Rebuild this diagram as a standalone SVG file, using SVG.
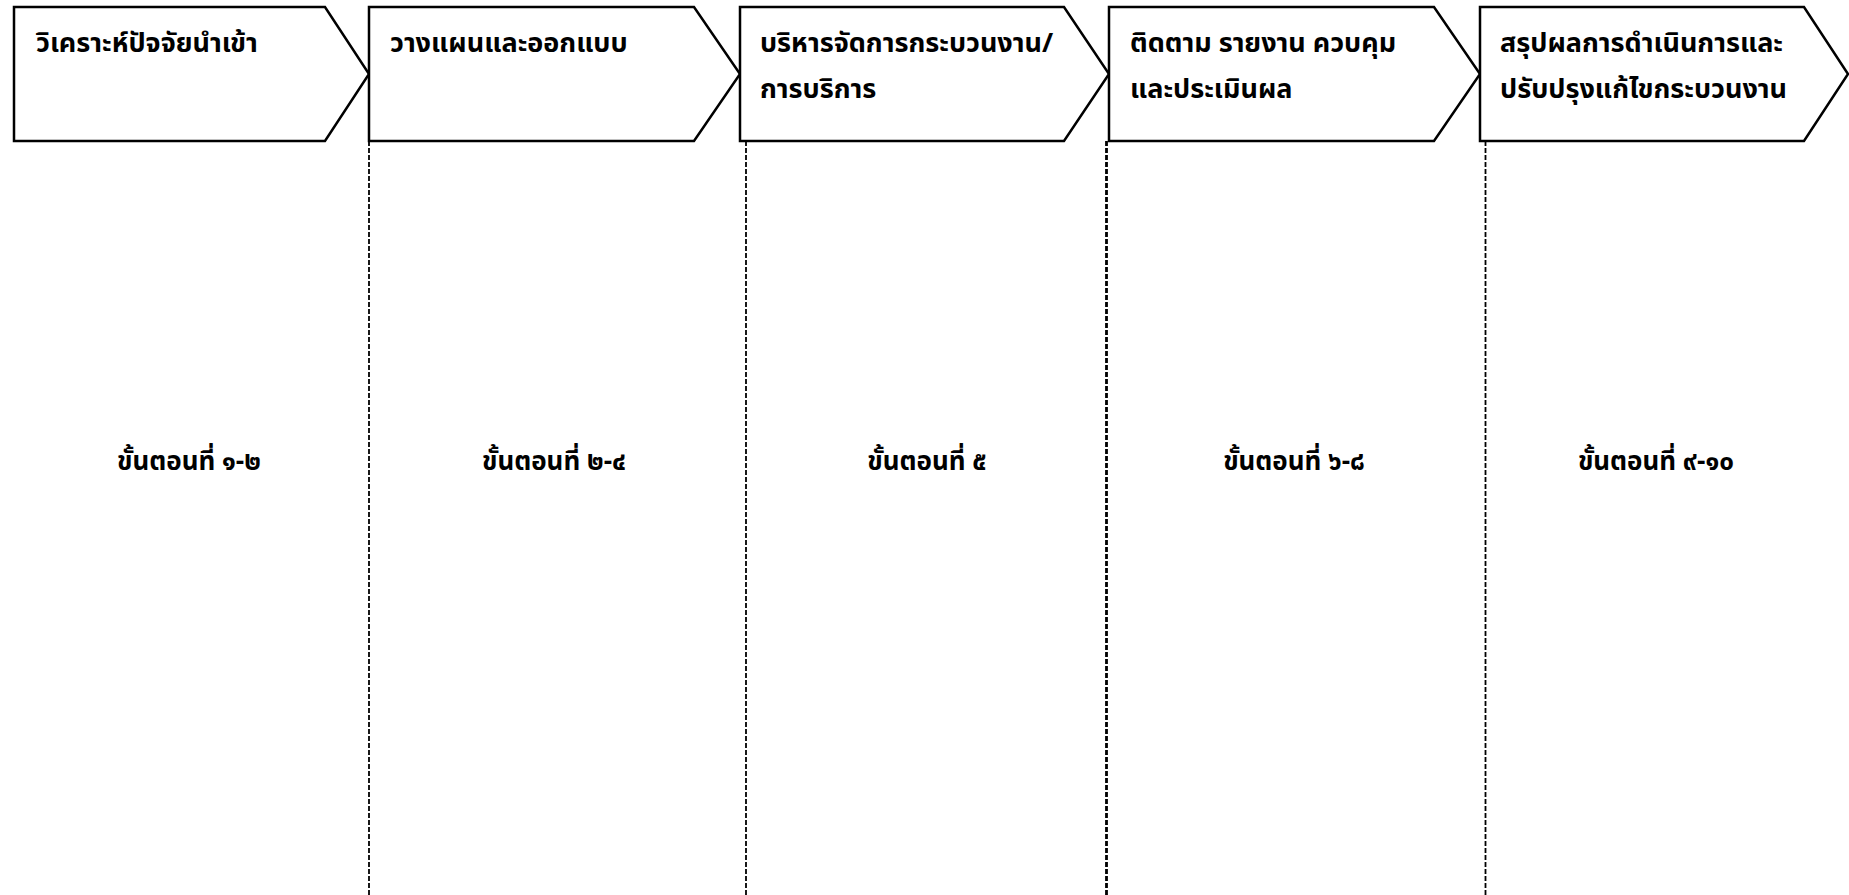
<svg xmlns="http://www.w3.org/2000/svg" width="1849" height="895" viewBox="0 0 1849 895">
<style>
.box{fill:#fff;stroke:#000;stroke-width:2.5;stroke-linejoin:miter}
.title{font-family:"Noto Sans Thai","Noto Sans","DejaVu Sans",sans-serif;font-size:27px;font-weight:bold;fill:#000}
.step{font-family:"Noto Sans Thai","Noto Sans","DejaVu Sans",sans-serif;font-size:26px;font-weight:bold;fill:#000;text-anchor:middle}
.div{stroke:#000;stroke-width:1.8;stroke-dasharray:5 2;fill:none}
</style>
<rect width="1849" height="895" fill="#fff"/>
<g id="connectors">
<line class="div" x1="369" y1="141" x2="369" y2="895"/>
<line class="div" x1="746" y1="141" x2="746" y2="895"/>
<line class="div" x1="1106.5" y1="141" x2="1106.5" y2="895" style="stroke-width:2.8"/>
<line class="div" x1="1485.5" y1="141" x2="1485.5" y2="895"/>
</g>
<g id="n1">
<polygon class="box" points="14,7 325,7 369,74 325,141 14,141"/>
<text class="title" x="36" y="52">วิเคราะห์ปัจจัยนำเข้า</text>
</g>
<g id="n2">
<polygon class="box" points="369,7 694,7 740,74 694,141 369,141"/>
<text class="title" x="390" y="52">วางแผนและออกแบบ</text>
</g>
<g id="n3">
<polygon class="box" points="740,7 1064,7 1109,74 1064,141 740,141"/>
<text class="title" x="760" y="52">บริหารจัดการกระบวนงาน/</text>
<text class="title" x="760" y="98">การบริการ</text>
</g>
<g id="n4">
<polygon class="box" points="1109,7 1434,7 1480,74 1434,141 1109,141"/>
<text class="title" x="1130" y="52">ติดตาม รายงาน ควบคุม</text>
<text class="title" x="1130" y="98">และประเมินผล</text>
</g>
<g id="n5">
<polygon class="box" points="1480,7 1804,7 1848,74 1804,141 1480,141"/>
<text class="title" x="1500" y="52">สรุปผลการดำเนินการและ</text>
<text class="title" x="1500" y="98">ปรับปรุงแก้ไขกระบวนงาน</text>
</g>
<g id="s1"><text class="step" x="189" y="470">ขั้นตอนที่ ๑-๒</text></g>
<g id="s2"><text class="step" x="554" y="470">ขั้นตอนที่ ๒-๔</text></g>
<g id="s3"><text class="step" x="927" y="470">ขั้นตอนที่ ๕</text></g>
<g id="s4"><text class="step" x="1294" y="470">ขั้นตอนที่ ๖-๘</text></g>
<g id="s5"><text class="step" x="1656" y="470">ขั้นตอนที่ ๙-๑๐</text></g>
</svg>
